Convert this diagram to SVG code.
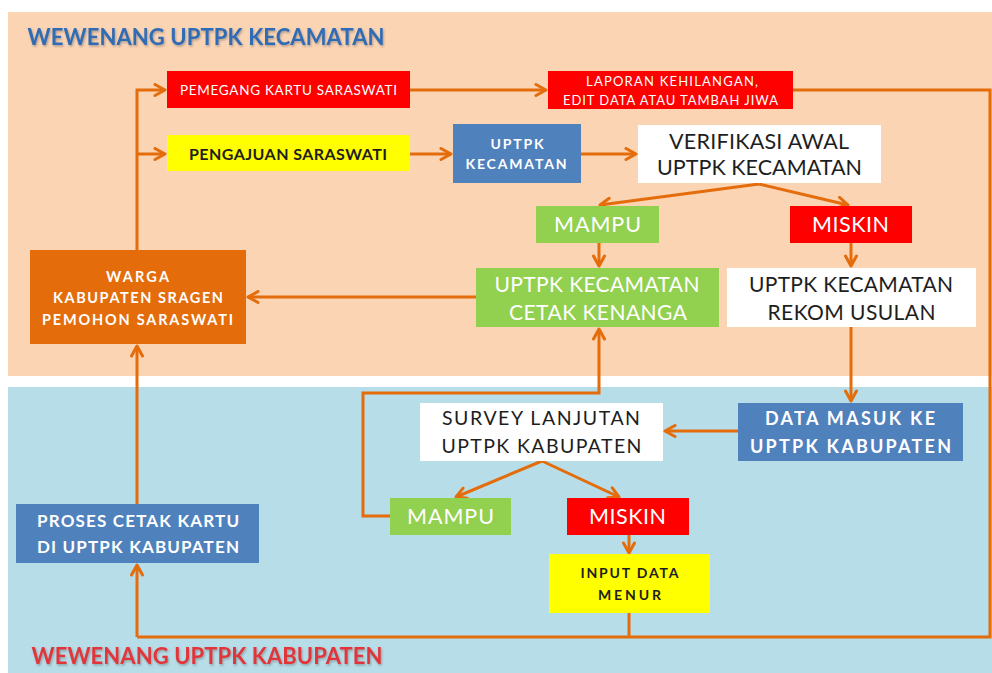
<svg xmlns="http://www.w3.org/2000/svg" width="992" height="673" viewBox="0 0 992 673">
<defs>
<style>
text{font-family:Lato,"Open Sans","Liberation Sans",sans-serif;text-anchor:middle}
.w{fill:#ffffff}
.k{fill:#1e1e1e}
.b{font-weight:bold}
.title{font-weight:bold;font-size:22px}
.c{fill:none;stroke:#E46C0A;stroke-width:3;stroke-linejoin:miter}
.a{marker-end:url(#arr)}
</style>
<marker id="arr" viewBox="0 0 14 14" refX="12" refY="7" markerWidth="14" markerHeight="14" markerUnits="userSpaceOnUse" orient="auto">
<path d="M2,1.5 L12,7 L2,12.5" fill="none" stroke="#E46C0A" stroke-width="3" stroke-linecap="round" stroke-linejoin="round"/>
</marker>
<filter id="sh" x="-5%" y="-30%" width="110%" height="160%">
<feDropShadow dx="1" dy="1.5" stdDeviation="1.2" flood-color="#6b6b6b" flood-opacity="0.55"/>
</filter>
</defs>
<rect x="0" y="0" width="992" height="673" fill="#ffffff"/>
<rect x="8" y="12" width="984" height="364" fill="#FBD4B4"/>
<rect x="8" y="387" width="984" height="286" fill="#B7DDE8"/>

<text class="title" x="206" y="45" fill="#2F6DB5" textLength="357" filter="url(#sh)">WEWENANG UPTPK KECAMATAN</text>
<text class="title" x="207" y="664" fill="#E2363A" textLength="351" filter="url(#sh)">WEWENANG UPTPK KABUPATEN</text>

<g id="connectors">
<path class="c a" d="M137,250 V90 H165"/>
<path class="c a" d="M137,154 H165"/>
<path class="c a" d="M410,90 H546"/>
<path class="c" d="M793,90 H990 V637 H137"/>
<path class="c a" d="M137,637 V565"/>
<path class="c a" d="M410,154 H451"/>
<path class="c a" d="M581,154 H636"/>
<path class="c a" d="M759,184 L600,205"/>
<path class="c a" d="M759,184 L848,205"/>
<path class="c a" d="M599,243 V266"/>
<path class="c a" d="M851,243 V266"/>
<path class="c a" d="M476,297 H248"/>
<path class="c a" d="M851,327 V401"/>
<path class="c a" d="M738,431 H665"/>
<path class="c a" d="M542,461 L456,497"/>
<path class="c a" d="M542,461 L619,497"/>
<path class="c a" d="M629,535 V553"/>
<path class="c" d="M629,613 V637"/>
<path class="c a" d="M390,516 H363 V393 H599 V329"/>
<path class="c a" d="M137,504 V346"/>
</g>

<g id="pemegang">
<rect x="167" y="71" width="243" height="37" fill="#FF0000"/>
<text class="w" x="288.5" y="95" font-size="13.5" textLength="217">PEMEGANG KARTU SARASWATI</text>
</g>
<g id="laporan">
<rect x="548" y="71" width="245" height="38" fill="#FF0000"/>
<text class="w" x="672" y="85.5" font-size="13" textLength="172">LAPORAN KEHILANGAN,</text>
<text class="w" x="670.5" y="105" font-size="13" textLength="215">EDIT DATA ATAU TAMBAH JIWA</text>
</g>
<g id="pengajuan">
<rect x="167" y="135" width="243" height="36" fill="#FFFF00"/>
<text class="k b" x="288" y="160" font-size="16" textLength="198">PENGAJUAN SARASWATI</text>
</g>
<g id="uptpk-kec">
<rect x="453" y="124" width="128" height="59" fill="#4F81BD"/>
<text class="w b" x="517" y="148.7" font-size="14" textLength="53">UPTPK</text>
<text class="w b" x="516" y="169.3" font-size="14" textLength="101">KECAMATAN</text>
</g>
<g id="verifikasi">
<rect x="638" y="125" width="243" height="58" fill="#FFFFFF"/>
<text class="k" x="759" y="149.3" font-size="21.5" textLength="180">VERIFIKASI AWAL</text>
<text class="k" x="759.5" y="175.3" font-size="21.5" textLength="205">UPTPK KECAMATAN</text>
</g>
<g id="mampu-kec">
<rect x="536" y="206" width="123" height="37" fill="#92D050"/>
<text class="w" x="597.5" y="232" font-size="21.5" textLength="87">MAMPU</text>
</g>
<g id="miskin-kec">
<rect x="790" y="206" width="122" height="37" fill="#FF0000"/>
<text class="w" x="850.5" y="232" font-size="21.5" textLength="77">MISKIN</text>
</g>
<g id="cetak-kenanga">
<rect x="476" y="268" width="243" height="59" fill="#92D050"/>
<text class="w" x="597" y="292.2" font-size="21" textLength="205">UPTPK KECAMATAN</text>
<text class="w" x="598" y="319.5" font-size="21" textLength="178">CETAK KENANGA</text>
</g>
<g id="rekom">
<rect x="727" y="268" width="249" height="59" fill="#FFFFFF"/>
<text class="k" x="851" y="292.2" font-size="21" textLength="204">UPTPK KECAMATAN</text>
<text class="k" x="851.5" y="319.5" font-size="21" textLength="168">REKOM USULAN</text>
</g>
<g id="warga">
<rect x="30" y="250" width="216" height="94" fill="#E46C0A"/>
<text class="w b" x="137.5" y="281.7" font-size="14.5" textLength="63">WARGA</text>
<text class="w b" x="138" y="303.3" font-size="14.5" textLength="170">KABUPATEN SRAGEN</text>
<text class="w b" x="137.5" y="325" font-size="14.5" textLength="191">PEMOHON SARASWATI</text>
</g>
<g id="data-masuk">
<rect x="738" y="403" width="225" height="58" fill="#4F81BD"/>
<text class="w b" x="850" y="424.8" font-size="18" textLength="170">DATA MASUK KE</text>
<text class="w b" x="850.5" y="452.5" font-size="18" textLength="201">UPTPK KABUPATEN</text>
</g>
<g id="survey">
<rect x="420" y="403" width="243" height="58" fill="#FFFFFF"/>
<text class="k" x="541" y="424.8" font-size="19.5" textLength="198">SURVEY LANJUTAN</text>
<text class="k" x="541.5" y="452.5" font-size="19.5" textLength="200">UPTPK KABUPATEN</text>
</g>
<g id="mampu-kab">
<rect x="390" y="498" width="121" height="37" fill="#92D050"/>
<text class="w" x="450.5" y="524" font-size="21.5" textLength="87">MAMPU</text>
</g>
<g id="miskin-kab">
<rect x="567" y="498" width="122" height="37" fill="#FF0000"/>
<text class="w" x="627.5" y="524" font-size="21.5" textLength="77">MISKIN</text>
</g>
<g id="input-menur">
<rect x="549" y="554" width="161" height="59" fill="#FFFF00"/>
<text class="k b" x="629.5" y="578.3" font-size="14" textLength="98">INPUT DATA</text>
<text class="k b" x="629.5" y="600" font-size="14" textLength="63">MENUR</text>
</g>
<g id="proses-cetak">
<rect x="16" y="504" width="243" height="59" fill="#4F81BD"/>
<text class="w b" x="138" y="526.8" font-size="17" textLength="202">PROSES CETAK KARTU</text>
<text class="w b" x="138" y="552.8" font-size="17" textLength="202">DI UPTPK KABUPATEN</text>
</g>
</svg>
